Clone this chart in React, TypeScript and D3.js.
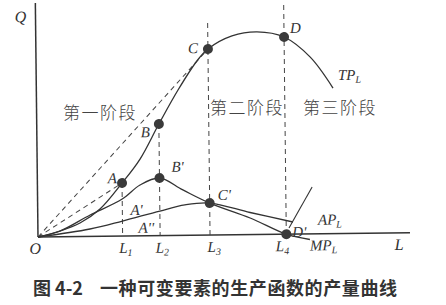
import React from 'react';
import * as d3 from 'd3';

// ---- data (L = labour input, Q = output) ----
const L_MARKS = [2.73, 3.94, 5.55, 8.01];
const L_SUBS = ['1', '2', '3', '4'];
const L_TOPS = [26.5, 55.8, 106, 114.6];

const TP_X = [0, 0.71, 1.36, 2.01, 2.73, 3.32, 3.94, 4.57, 5.19, 5.55, 6.33, 7.14, 8.01, 8.84, 9.57];
const TP_Y = [0, 2.87, 6.76, 13.65, 26.5, 38.4, 55.8, 72.7, 87.1, 93.0, 99.4, 101.3, 98.6, 88.5, 72.8];

const MP_X = [0, 0.71, 1.69, 2.73, 3.31, 3.94, 4.69, 5.55, 6.85, 8.01, 8.77];
const MP_Y = [0, 2.87, 10.7, 18.5, 25.4, 28.8, 22.7, 16.0, 8.3, 0, -2.8];

const AP_X = [0, 1.68, 2.73, 3.94, 4.75, 5.55, 6.85, 8.23];
const AP_Y = [0, 3.7, 7.5, 12.3, 15.2, 16.0, 11.05, 6.05];

const POINT_NAMES = ['A', 'B', 'C', 'D', "B'", "C'", "D'"];
const POINT_X = [2.73, 3.94, 5.55, 8.01, 3.94, 5.55, 8.01];
const POINT_Y = [26.5, 55.8, 93.0, 98.6, 28.8, 16.0, 0];

const TEXT_LABELS = ["A'", "A''"];
const TEXT_X = [2.73, 2.73];
const TEXT_Y = [18.5, 7.5];

const STAGES = ['第一阶段', '第二阶段', '第三阶段'];
const CAPTION_NO = '图 4-2';
const CAPTION = '一种可变要素的生产函数的产量曲线';

const W = 446;
const H = 305;
const INK = '#333';
const SERIF = '"Liberation Serif", "DejaVu Serif", serif';
const CJK = '"Noto Sans CJK SC", sans-serif';

export default function App() {
  const x = d3.scaleLinear().domain([0, 12]).range([38, 410]);
  const y = d3.scaleLinear().domain([0, 117]).range([237, 3]);

  const mk = (xs: number[], ys: number[]) =>
    d3
      .line<number>()
      .x((_, i) => x(xs[i]))
      .y((_, i) => y(ys[i]))
      .curve(d3.curveCatmullRom.alpha(0.5))(xs);

  const tpPath = mk(TP_X, TP_Y) || '';
  const mpPath = mk(MP_X, MP_Y) || '';
  const apPath = mk(AP_X, AP_Y) || '';

  const ptOff: [number, number, string][] = [
    [-5, 0, 'end'],
    [-9, 13, 'end'],
    [-10, 4, 'end'],
    [6, -4, 'start'],
    [12, -6, 'start'],
    [8, -3, 'start'],
    [6, 3, 'start'],
  ];
  const txtOff: [number, number][] = [
    [8, 16],
    [16, 12],
  ];
  const lOff = [3, 2, 4, -4];

  const italic = { fontFamily: SERIF, fontStyle: 'italic' as const, fill: INK };

  const sub = (main: string, s: string, px: number, py: number, anchor = 'start') => (
    <text x={px} y={py} fontSize={15} textAnchor={anchor} {...italic}>
      {main}
      <tspan fontSize={10} dy={3}>
        {s}
      </tspan>
    </text>
  );

  const gx = x(0);
  const gy = y(0);

  const tpEnd = [x(TP_X[TP_X.length - 1]), y(TP_Y[TP_Y.length - 1])];
  const apEnd = [x(AP_X[AP_X.length - 1]), y(AP_Y[AP_Y.length - 1])];
  const mpEnd = [x(MP_X[MP_X.length - 1]), y(MP_Y[MP_Y.length - 1])];

  return (
    <svg
      width={W}
      height={H}
      style={{ position: 'absolute', left: 0, top: 0, background: '#fff' }}
    >
      <rect x={0} y={0} width={W} height={H} fill="#fff" />
      <g transform={`rotate(-0.65, ${gx}, ${gy})`}>
        {/* axes */}
        <line x1={gx} y1={y(117)} x2={gx} y2={gy} stroke={INK} strokeWidth={1.5} />
        <line x1={gx} y1={gy} x2={x(12)} y2={gy} stroke={INK} strokeWidth={1.5} />

        {/* dashed verticals */}
        {L_MARKS.map((l, i) => (
          <line
            key={'v' + i}
            x1={x(l)}
            x2={x(l)}
            y1={y(L_TOPS[i])}
            y2={gy}
            stroke="#444"
            strokeWidth={1}
            strokeDasharray="5,4"
          />
        ))}
        {/* dashed rays from origin to A and C */}
        {[0, 2].map((k) => (
          <line
            key={'r' + k}
            x1={gx}
            y1={gy}
            x2={x(POINT_X[k])}
            y2={y(POINT_Y[k])}
            stroke="#444"
            strokeWidth={1}
            strokeDasharray="5,4"
          />
        ))}

        {/* curves */}
        <path d={tpPath} fill="none" stroke={INK} strokeWidth={1.3} />
        <path d={mpPath} fill="none" stroke={INK} strokeWidth={1.3} />
        <path d={apPath} fill="none" stroke={INK} strokeWidth={1.3} />

        {/* leader line to D' */}
        <line x1={x(8.86)} y1={y(23.45)} x2={x(8.1)} y2={y(3.1)} stroke={INK} strokeWidth={1.1} />

        {/* points */}
        {POINT_NAMES.map((n, i) => (
          <circle key={'p' + i} cx={x(POINT_X[i])} cy={y(POINT_Y[i])} r={5} fill="#3a3a3a" />
        ))}
        {POINT_NAMES.map((n, i) => (
          <text
            key={'pl' + i}
            x={x(POINT_X[i]) + ptOff[i][0]}
            y={y(POINT_Y[i]) + ptOff[i][1]}
            textAnchor={ptOff[i][2]}
            fontSize={15}
            {...italic}
          >
            {n}
          </text>
        ))}
        {TEXT_LABELS.map((n, i) => (
          <text
            key={'tl' + i}
            x={x(TEXT_X[i]) + txtOff[i][0]}
            y={y(TEXT_Y[i]) + txtOff[i][1]}
            fontSize={15}
            {...italic}
          >
            {n}
          </text>
        ))}

        {/* curve labels */}
        {sub('TP', 'L', tpEnd[0] + 5, tpEnd[1] - 8)}
        {sub('AP', 'L', apEnd[0] + 25, apEnd[1] + 3)}
        {sub('MP', 'L', mpEnd[0], mpEnd[1] + 11)}

        {/* axis labels */}
        {L_MARKS.map((l, i) => (
          <g key={'lt' + i}>{sub('L', L_SUBS[i], x(l) + lOff[i], gy + 17, 'middle')}</g>
        ))}
        <text x={gx - 3} y={gy + 17} fontSize={16} textAnchor="middle" {...italic}>
          O
        </text>
        <text x={x(11.65)} y={gy + 17} fontSize={16} textAnchor="middle" {...italic}>
          L
        </text>
        <text x={gx - 15} y={y(107.5)} fontSize={16} textAnchor="middle" {...italic}>
          Q
        </text>
      </g>

      {/* stage labels */}
      {STAGES.map((s, i) => (
        <text
          key={'s' + i}
          x={[63, 210, 303][i]}
          y={[119, 114, 114][i]}
          fontSize={17}
          letterSpacing={1.5}
          fontFamily={CJK}
          fontWeight={300}
          fill="#444"
        >
          {s}
        </text>
      ))}

      {/* caption */}
      <text x={33} y={295} fontSize={18} fontFamily={CJK} fontWeight={700} fill="#333">
        {CAPTION_NO}
      </text>
      <text x={100} y={295} fontSize={18} letterSpacing={0.6} fontFamily={CJK} fontWeight={700} fill="#333">
        {CAPTION}
      </text>
    </svg>
  );
}
